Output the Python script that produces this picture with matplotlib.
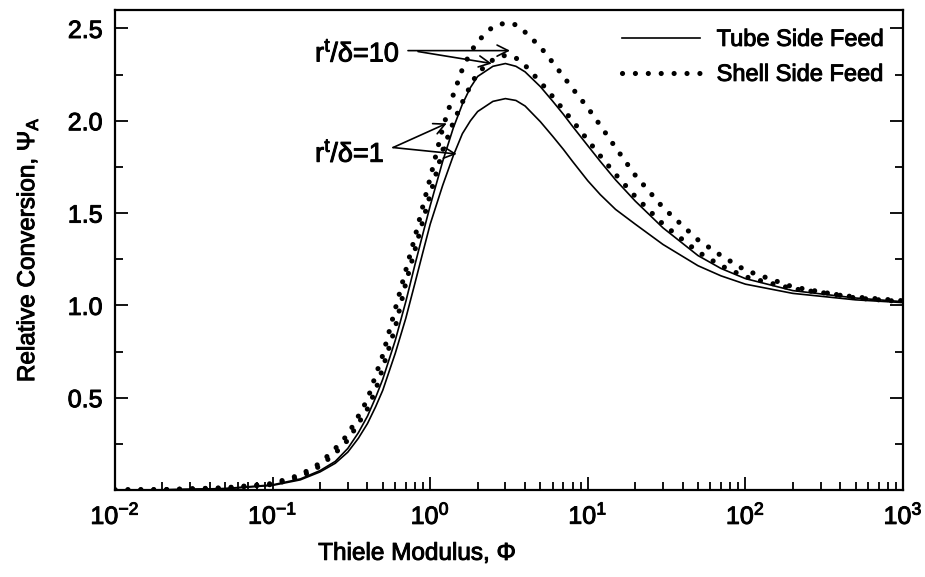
import matplotlib
matplotlib.use('Agg')
import matplotlib.pyplot as plt
import matplotlib.patheffects as pe
from matplotlib.ticker import FixedLocator, LogLocator, NullFormatter

plt.rcParams['font.family'] = ['Liberation Sans', 'DejaVu Sans']
plt.rcParams['mathtext.default'] = 'regular'

# Thiele modulus values the curves were read at
PHI = [0.01, 0.02, 0.05, 0.1, 0.15, 0.2, 0.25, 0.3, 0.35, 0.4, 0.45, 0.5,
       0.6, 0.7, 0.8, 0.9, 1.0, 1.2, 1.4, 1.6, 1.8, 2.0, 2.5, 3.0, 3.5,
       4.0, 5.0, 6.0, 7.0, 8.0, 10, 12, 15, 20, 30, 50, 70, 100, 200,
       500, 1000]

# relative conversion, tube side feed
TUBE_1 = [0.0, 0.001, 0.007, 0.025, 0.055, 0.098, 0.145, 0.205, 0.28, 0.36,
          0.45, 0.54, 0.74, 0.93, 1.12, 1.29, 1.44, 1.65, 1.81, 1.93, 2.00,
          2.05, 2.105, 2.12, 2.11, 2.08, 1.995, 1.915, 1.845, 1.78, 1.675,
          1.60, 1.52, 1.44, 1.33, 1.215, 1.16, 1.115, 1.065, 1.03, 1.015]
TUBE_10 = [0.0, 0.001, 0.008, 0.028, 0.06, 0.105, 0.155, 0.225, 0.31, 0.40,
           0.50, 0.60, 0.81, 1.02, 1.22, 1.39, 1.54, 1.78, 1.96, 2.09, 2.18,
           2.24, 2.295, 2.31, 2.295, 2.265, 2.185, 2.105, 2.035, 1.97, 1.865,
           1.78, 1.68, 1.565, 1.42, 1.27, 1.20, 1.145, 1.08, 1.04, 1.02]

# relative conversion, shell side feed
SHELL_1 = [0.001, 0.002, 0.01, 0.03, 0.07, 0.13, 0.20, 0.27, 0.36, 0.44,
           0.54, 0.66, 0.88, 1.12, 1.30, 1.46, 1.60, 1.84, 1.99, 2.10, 2.19,
           2.26, 2.33, 2.355, 2.34, 2.30, 2.21, 2.13, 2.06, 2.00, 1.895,
           1.81, 1.71, 1.59, 1.44, 1.29, 1.215, 1.155, 1.09, 1.045, 1.025]
SHELL_10 = [0.001, 0.002, 0.012, 0.035, 0.082, 0.145, 0.225, 0.30, 0.40,
            0.49, 0.62, 0.73, 0.98, 1.19, 1.37, 1.54, 1.69, 1.96, 2.14,
            2.28, 2.37, 2.43, 2.51, 2.53, 2.52, 2.48, 2.40, 2.315, 2.24,
            2.175, 2.07, 1.975, 1.855, 1.705, 1.53, 1.355, 1.27, 1.19, 1.10,
            1.04, 1.02]

Y_MAJOR = [0.5, 1.0, 1.5, 2.0, 2.5]
Y_LABELS = ['0.5', '1.0', '1.5', '2.0', '2.5']
Y_MINOR = [0.25, 0.75, 1.25, 1.75, 2.25]

DOTS = (0, (0.01, 2.5))
HEAVY = [pe.withStroke(linewidth=0.7, foreground='black')]

fig = plt.figure(figsize=(9.25, 5.77), dpi=100)
ax = fig.add_axes([115 / 925, 1 - 490 / 577, 788 / 925, 480 / 577])

ax.plot(PHI, TUBE_10, color='black', lw=1.2, label='Tube Side Feed')
ax.plot(PHI, TUBE_1, color='black', lw=1.2)
ax.plot(PHI, SHELL_10, color='black', lw=3.7, linestyle=DOTS,
        dash_capstyle='round', label='Shell Side Feed')
ax.plot(PHI, SHELL_1, color='black', lw=3.7, linestyle=DOTS,
        dash_capstyle='round')

ax.set_xscale('log')
ax.set_xlim(0.01, 1000)
ax.set_ylim(0, 2.6)
ax.set_yticks(Y_MAJOR)
ax.set_yticklabels(Y_LABELS)
ax.yaxis.set_minor_locator(FixedLocator(Y_MINOR))
ax.xaxis.set_minor_locator(LogLocator(base=10, subs=range(2, 10), numticks=20))
ax.xaxis.set_minor_formatter(NullFormatter())

ax.tick_params(which='both', direction='in', top=False, right=True, width=1.3)
ax.tick_params(which='major', length=9.5, labelsize=18, pad=9)
ax.tick_params(which='minor', length=5.5)
for s in ax.spines.values():
    s.set_linewidth(1.6)

ax.set_xlabel('Thiele Modulus, Φ', fontsize=17.5)
ax.set_ylabel('Relative Conversion, Ψ$_{A}$', fontsize=17.5)
ax.xaxis.set_label_coords(0.383, -0.11)
ax.yaxis.set_label_coords(-0.095, 0.5)

# labels with arrows
arrow = dict(arrowstyle='->', lw=1.2, color='black', mutation_scale=20,
             shrinkA=0, shrinkB=0)
t10 = ax.text(0.186, 2.32, 'r$^{t}$/δ=10', fontsize=19.5, va='baseline')
ax.annotate('', xy=(3.21, 2.38), xytext=(0.723, 2.38), arrowprops=arrow)
ax.annotate('', xy=(2.46, 2.31), xytext=(0.837, 2.375), arrowprops=arrow)
t1 = ax.text(0.186, 1.777, 'r$^{t}$/δ=1', fontsize=19.5, va='baseline')
ax.annotate('', xy=(1.473, 1.82), xytext=(0.581, 1.855), arrowprops=arrow)
ax.annotate('', xy=(1.273, 1.986), xytext=(0.581, 1.855), arrowprops=arrow)

leg = ax.legend(loc='upper right', frameon=False, fontsize=17,
                handlelength=3.3, handletextpad=0.7, labelspacing=0.55,
                borderaxespad=0.4)

texts = [t10, t1, ax.xaxis.label, ax.yaxis.label] + leg.get_texts()
texts += ax.get_xticklabels() + ax.get_yticklabels()
for t in texts:
    t.set_path_effects(HEAVY)

fig.savefig('out.png', dpi=100)
